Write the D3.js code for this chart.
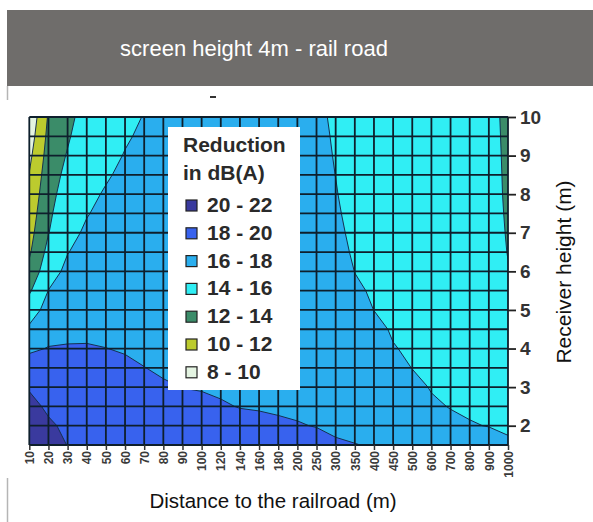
<!DOCTYPE html>
<html><head><meta charset="utf-8">
<script src="https://cdn.jsdelivr.net/npm/d3@7"></script>
<style>
body{margin:0;background:#fff;}
text{font-family:"Liberation Sans",Arial,sans-serif;}
</style>
</head><body>
<svg id="c" width="593" height="522"></svg>
<script>
// ---- data ----
const distances = ["10","20","30","40","50","60","70","80","90","100","120","140","160","180","200","250","300","350","400","450","500","600","700","800","900","1000"];
const heights = [10,9.5,9,8.5,8,7.5,7,6.5,6,5.5,5,4.5,4,3.5,3,2.5,2,1.5];
const heightTicks = [2,3,4,5,6,7,8,9,10];
const thresholds = [8,10,12,14,16,18,20];
const legendLabels = ["20 - 22","18 - 20","16 - 18","14 - 16","12 - 14","10 - 12","8 - 10"];
const legendLow = [20,18,16,14,12,10,8];
// reduction in dB(A), rows = heights (top to bottom), columns = distances
const reduction = [
 [8.5,12.2,13.42,14.9,15.16,15.68,16.05,16.3,16.5,16.6,16.6,16.6,16.5,16.4,16.3,16.4,15.69,14.45,14.5,14.52,14.36,14.54,14.46,14.41,14.6,13.55],
 [9.0,12.49,13.78,15.11,15.40,15.87,16.20,16.42,16.61,16.7,16.69,16.69,16.6,16.5,16.41,16.5,15.79,14.65,14.65,14.65,14.48,14.64,14.56,14.51,14.69,13.56],
 [9.55,12.78,14.14,15.32,15.64,16.06,16.35,16.55,16.71,16.8,16.79,16.78,16.69,16.6,16.51,16.6,15.88,14.85,14.8,14.77,14.61,14.74,14.66,14.61,14.77,13.58],
 [10.08,13.07,14.51,15.52,15.88,16.24,16.50,16.67,16.82,16.89,16.88,16.88,16.79,16.71,16.62,16.7,15.98,15.0,14.95,14.9,14.73,14.84,14.76,14.71,14.86,13.6],
 [10.5,13.36,14.87,15.73,16.11,16.43,16.65,16.8,16.92,16.99,16.98,16.97,16.89,16.81,16.73,16.79,16.11,15.2,15.1,15.02,14.86,14.94,14.86,14.81,14.95,13.62],
 [10.92,13.65,15.23,15.93,16.35,16.62,16.80,16.92,17.03,17.09,17.07,17.06,16.99,16.91,16.84,16.89,16.26,15.39,15.25,15.15,14.98,15.04,14.96,14.91,15.03,13.7],
 [11.33,13.94,15.59,16.21,16.59,16.80,16.95,17.05,17.14,17.18,17.17,17.15,17.08,17.01,16.94,16.99,16.41,15.59,15.4,15.27,15.11,15.14,15.06,15.01,15.12,13.8],
 [11.75,14.58,15.95,16.53,16.83,16.99,17.10,17.17,17.24,17.28,17.26,17.25,17.18,17.12,17.05,17.09,16.56,15.78,15.55,15.4,15.23,15.24,15.16,15.11,15.21,13.92],
 [12.5,15.30,16.37,16.84,17.06,17.18,17.25,17.29,17.35,17.38,17.36,17.34,17.28,17.22,17.16,17.19,16.71,15.98,15.7,15.52,15.36,15.34,15.26,15.21,15.29,14.13],
 [13.75,16.03,16.81,17.15,17.30,17.36,17.40,17.42,17.46,17.48,17.45,17.43,17.38,17.32,17.26,17.29,16.86,16.2,15.85,15.65,15.48,15.44,15.36,15.31,15.38,14.35],
 [15.03,16.72,17.24,17.46,17.54,17.55,17.55,17.54,17.56,17.57,17.55,17.52,17.47,17.42,17.37,17.39,17.01,16.43,15.99,15.77,15.61,15.54,15.46,15.41,15.47,14.57],
 [16.33,17.41,17.68,17.78,17.78,17.74,17.70,17.67,17.67,17.67,17.64,17.62,17.57,17.52,17.48,17.49,17.16,16.66,16.26,15.9,15.73,15.64,15.56,15.51,15.55,14.79],
 [17.72,18.07,18.1,18.08,18.01,17.93,17.86,17.79,17.77,17.77,17.74,17.71,17.67,17.63,17.58,17.58,17.31,16.89,16.54,16.05,15.86,15.74,15.66,15.61,15.64,15.01],
 [18.81,18.6,18.48,18.38,18.29,18.16,18.01,17.91,17.88,17.86,17.83,17.8,17.77,17.73,17.69,17.68,17.46,17.11,16.82,16.34,15.98,15.84,15.76,15.71,15.73,15.23],
 [19.82,19.13,18.86,18.68,18.57,18.42,18.26,18.07,17.99,17.96,17.92,17.89,17.86,17.83,17.8,17.78,17.61,17.34,17.11,16.63,16.27,15.94,15.86,15.81,15.81,15.45],
 [20.6,19.66,19.24,18.98,18.85,18.68,18.5,18.31,18.21,18.14,18.05,17.98,17.96,17.93,17.91,17.88,17.76,17.57,17.39,16.92,16.58,16.14,15.96,15.91,15.9,15.67],
 [21.1,20.3,19.62,19.29,19.12,18.94,18.75,18.56,18.46,18.37,18.27,18.18,18.13,18.08,18.03,17.98,17.91,17.8,17.67,17.21,16.89,16.52,16.23,16.04,15.98,15.89],
 [21.5,20.9,19.95,19.6,19.4,19.2,19.0,18.8,18.7,18.6,18.5,18.4,18.35,18.3,18.25,18.2,18.06,18.02,17.95,17.5,17.2,16.9,16.6,16.4,16.3,16.11]
];

// ---- styles ----
const bandColor = d3.scaleOrdinal()
  .domain([8,10,12,14,16,18,20])
  .range(["#e4f4e2","#bccb2e","#3b8c69","#30eef4","#2aaeee","#3862ee","#3a3a9e"]);

const svg = d3.select("#c");
const plot = {left:29.3, right:508, top:117, bottom:445};

// title bar
svg.append("rect").attr("x",7).attr("y",10).attr("width",590).attr("height",76).attr("fill","#6f6d6b");
svg.append("text").attr("x",254).attr("y",56).attr("text-anchor","middle")
  .attr("fill","#fff").attr("font-size",22).text("screen height 4m - rail road");
// frame lines
svg.append("line").attr("x1",7.5).attr("x2",7.5).attr("y1",86).attr("y2",100).attr("stroke","#b5b5b5").attr("stroke-width",1.5);
svg.append("line").attr("x1",7.5).attr("x2",7.5).attr("y1",478).attr("y2",522).attr("stroke","#b5b5b5").attr("stroke-width",1.5);
svg.append("line").attr("x1",210).attr("x2",216).attr("y1",97).attr("y2",97).attr("stroke","#333").attr("stroke-width",2);

const x = d3.scalePoint().domain(distances).range([plot.left, plot.right]);
const y = d3.scaleLinear().domain([1.5,10]).range([plot.bottom, plot.top]);
const gx = d3.scaleLinear().domain([0.5, distances.length-0.5]).range([plot.left, plot.right]);
const gy = d3.scaleLinear().domain([0.5, heights.length-0.5]).range([y(heights[0]), y(heights[heights.length-1])]);

svg.append("clipPath").attr("id","clip").append("rect")
  .attr("x",plot.left).attr("y",plot.top).attr("width",plot.right-plot.left).attr("height",plot.bottom-plot.top);

const contours = d3.contours().size([distances.length, heights.length]).thresholds(thresholds)(reduction.flat());
const proj = d3.geoTransform({point(px,py){ this.stream.point(gx(px), gy(py)); }});
const path = d3.geoPath(proj);

const g = svg.append("g").attr("clip-path","url(#clip)");
g.selectAll("path.fill").data(contours).join("path").attr("class","fill")
  .attr("d",path).attr("fill",d=>bandColor(d.value)).attr("stroke","none");
g.selectAll("path.line").data(contours.filter(d=>d.value>8)).join("path").attr("class","line")
  .attr("d",path).attr("fill","none").attr("stroke","#163050").attr("stroke-width",1);

// grid
const grid = svg.append("g").attr("stroke","#0e1f2c").attr("stroke-width",1.8);
grid.selectAll("line.v").data(distances).join("line").attr("class","v")
  .attr("x1",d=>x(d)).attr("x2",d=>x(d)).attr("y1",plot.top).attr("y2",plot.bottom);
grid.selectAll("line.h").data(heights).join("line").attr("class","h")
  .attr("x1",plot.left).attr("x2",plot.right).attr("y1",d=>y(d)).attr("y2",d=>y(d));

// axes
const xAxis = svg.append("g").attr("transform",`translate(0,${plot.bottom})`)
  .call(d3.axisBottom(x).tickSize(5).tickPadding(2));
xAxis.select(".domain").remove();
xAxis.selectAll(".tick line").attr("stroke","#333").attr("stroke-width",1.5);
xAxis.selectAll(".tick text").attr("transform","rotate(-90)").attr("x",-6).attr("y",0)
  .attr("dy","0.35em").attr("text-anchor","end")
  .attr("font-size",12).attr("font-weight","bold").attr("fill","#3a3a3a")
  .attr("font-family","'Liberation Sans',Arial,sans-serif");

const yAxis = svg.append("g").attr("transform",`translate(${plot.right},0)`)
  .call(d3.axisRight(y).tickValues(heightTicks).tickFormat(d3.format("d")).tickSize(8).tickPadding(4));
yAxis.select(".domain").remove();
yAxis.selectAll(".tick line").attr("stroke","#222").attr("stroke-width",1.8);
yAxis.selectAll(".tick text").attr("font-size",19).attr("font-weight","bold").attr("fill","#333")
  .attr("font-family","'Liberation Sans',Arial,sans-serif");

// legend
const lg = svg.append("g");
lg.append("rect").attr("x",168).attr("y",127).attr("width",132).attr("height",263).attr("fill","#fff");
lg.append("text").attr("x",183).attr("y",152).attr("font-size",21).attr("font-weight","bold").attr("fill","#2a2a2a").text("Reduction");
lg.append("text").attr("x",183).attr("y",180).attr("font-size",21).attr("font-weight","bold").attr("fill","#2a2a2a").text("in dB(A)");
const items = lg.selectAll("g.item").data(legendLabels).join("g").attr("class","item")
  .attr("transform",(d,i)=>`translate(0,${212 + i*27.8})`);
items.append("rect").attr("x",186).attr("y",-12).attr("width",11).attr("height",11)
  .attr("fill",(d,i)=>bandColor(legendLow[i])).attr("stroke","#222").attr("stroke-width",1.2);
items.append("text").attr("x",207).attr("y",0).attr("font-size",21).attr("font-weight","bold").attr("fill","#2a2a2a").text(d=>d);

// axis titles
svg.append("text").attr("x",273).attr("y",508).attr("text-anchor","middle").attr("font-size",20.5).attr("fill","#111")
  .text("Distance to the railroad (m)");
svg.append("text").attr("transform","translate(571,272) rotate(-90)").attr("text-anchor","middle").attr("font-size",21).attr("fill","#111")
  .text("Receiver height (m)");
</script>
</body></html>
